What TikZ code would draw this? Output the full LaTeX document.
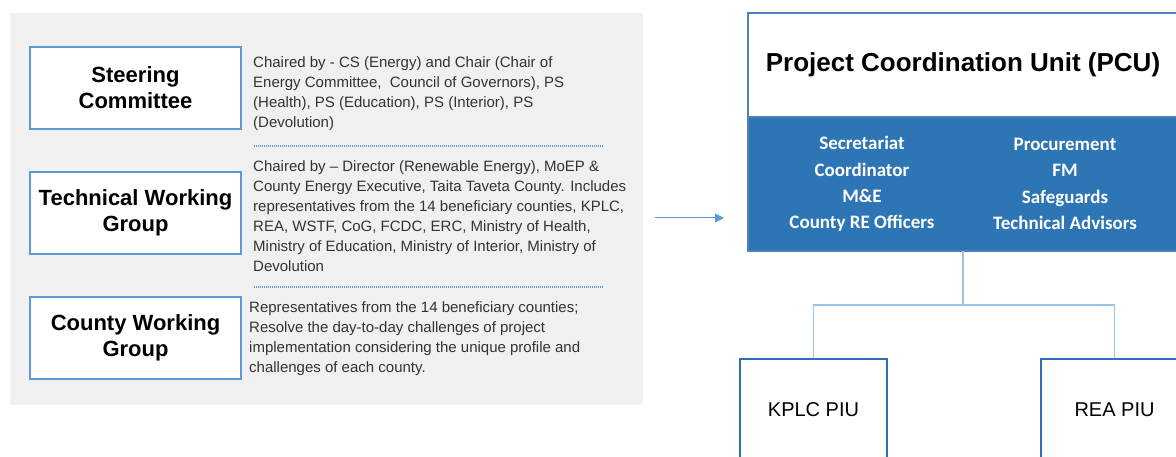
\documentclass[tikz,border=0pt]{standalone}
\usepackage{fontspec}
\setmainfont{Liberation Sans}
\newfontfamily\calibri{Carlito}
\usetikzlibrary{arrows,arrows.meta,positioning}
\definecolor{panelgray}{HTML}{F0F0F0}
\definecolor{roleblue}{HTML}{5B9BD5}
\definecolor{pcuedge}{HTML}{4F81BD}
\definecolor{pcufill}{HTML}{2E75B6}
\definecolor{linkblue}{HTML}{9DC3E6}
\definecolor{piublue}{HTML}{2F6EBA}

\begin{document}
\begin{tikzpicture}[x=1pt, y=-1pt, node distance=125pt,
    role/.style={draw=roleblue, line width=2pt, fill=white, minimum width=211pt, minimum height=82pt,
        align=center, font=\bfseries\fontsize{22}{26}\selectfont},
    desc/.style={anchor=north west, inner sep=0pt, align=left, text=black!80, font=\fontsize{15}{20}\selectfont},
    dotsep/.style={draw=roleblue, line width=1.5pt, dash pattern=on 1pt off 1pt},
    unit/.style={draw=pcuedge, line width=1.5pt, minimum width=430pt, outer sep=0pt},
    staff/.style={text=white, align=center, font=\calibri\bfseries\fontsize{19}{26.3}\selectfont},
    piu/.style={draw=piublue, line width=2.5pt, fill=white, minimum width=147pt, minimum height=102pt,
        font=\fontsize{20}{24}\selectfont},
    link/.style={draw=linkblue, line width=1.5pt}]
    \useasboundingbox (0,0) rectangle (1176,457);
    \clip (0,0) rectangle (1176,457);

    \node[fill=panelgray, anchor=north west, inner sep=0pt, minimum width=633pt, minimum height=392pt] (panel) at (10,13) {};
    \node[role] (steer) at (135.5,88) {Steering\\Committee};
    \node[role] (twg) [below of=steer] {Technical Working\\Group};
    \node[role] (cwg) [below of=twg] {County Working\\Group};

    \node[desc] (steerText) at (253,56) {Chaired by - CS (Energy) and Chair (Chair of\\
        Energy Committee, \ Council of Governors), PS\\(Health), PS (Education), PS (Interior), PS\\(Devolution)};
    \node[desc] (twgText) at (253,160) {Chaired by – Director (Renewable Energy), MoEP \&\\
        County Energy Executive, Taita Taveta County. Includes\\
        representatives from the 14 beneficiary counties, KPLC,\\
        REA, WSTF, CoG, FCDC, ERC, Ministry of Health,\\
        Ministry of Education, Ministry of Interior, Ministry of\\Devolution};
    \node[desc] (cwgText) at (249,301) {Representatives from the 14 beneficiary counties;\\
        Resolve the day-to-day challenges of project\\
        implementation considering the unique profile and\\
        challenges of each county.};
    \draw[dotsep] (254,146) -- (603,146);
    \draw[dotsep] (254,287) -- (603,287);

    \node[unit, fill=white, minimum height=104pt, font=\bfseries\fontsize{26}{30}\selectfont] (pcuHead) at (963,65)
        {Project Coordination Unit (PCU)};
    \node[unit, fill=pcufill, minimum height=134pt] (pcuBody) [below=0pt of pcuHead] {};
    \node[staff] (staffLeft) at (862,184) {Secretariat\\Coordinator\\M\&E\\County RE Officers};
    \node[staff] (staffRight) at (1065,184) {Procurement\\FM\\Safeguards\\Technical Advisors};

    \coordinate (arrTail) at (655,218);
    \draw[draw=roleblue, line width=1pt, -{Triangle[length=9pt,width=9pt]}] (arrTail) -- ([xshift=-24pt]arrTail -| pcuBody.west);

    \node[piu] (kplc) at (813.5,410) {KPLC PIU};
    \node[piu] (rea) at (1114.5,410) {REA PIU};
    \draw[link] (pcuBody.south) -- ++(0,54) coordinate (fork);
    \draw[link] (fork) -| (kplc.north);
    \draw[link] (fork) -| (rea.north);
\end{tikzpicture}
\end{document}
